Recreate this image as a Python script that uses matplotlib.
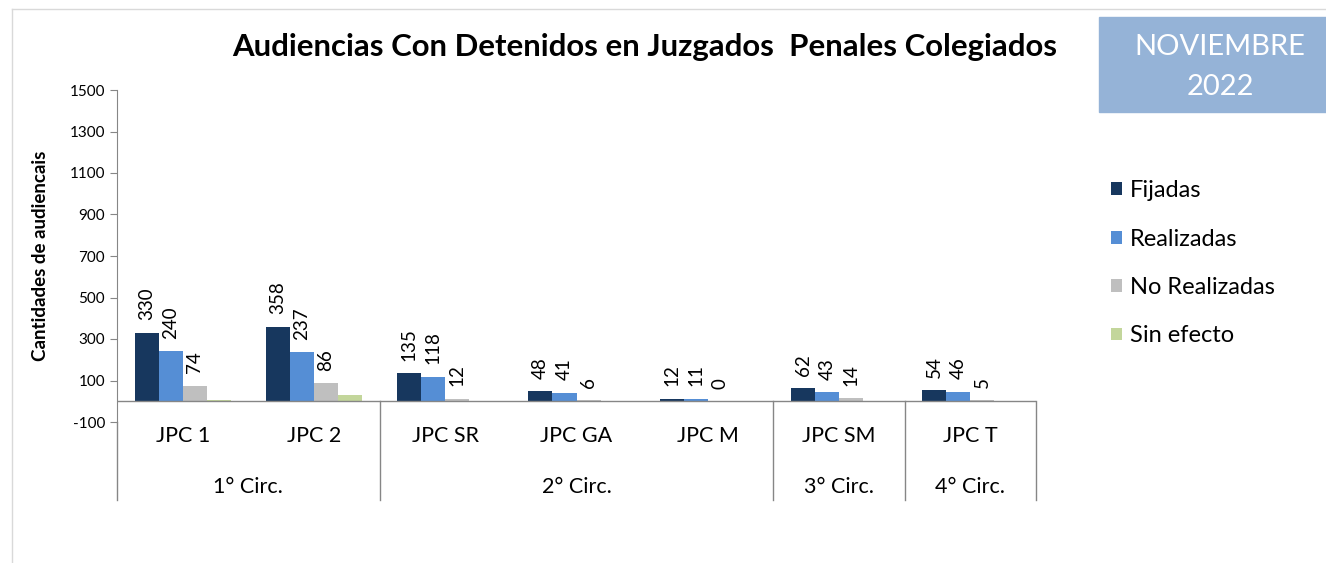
import matplotlib.pyplot as plt
import matplotlib.transforms as mtransforms
from matplotlib.patches import Rectangle
from matplotlib.lines import Line2D
import numpy as np

plt.rcParams['font.family'] = ['Lato', 'DejaVu Sans']
plt.rcParams['axes.unicode_minus'] = False

# Datos
juzgados = ['JPC 1', 'JPC 2', 'JPC SR', 'JPC GA', 'JPC M', 'JPC SM', 'JPC T']
circ = ['1° Circ.', '2° Circ.', '3° Circ.', '4° Circ.']
circ_span = [(0, 1), (2, 4), (5, 5), (6, 6)]
series = ['Fijadas', 'Realizadas', 'No Realizadas', 'Sin efecto']
fijadas = [330, 358, 135, 48, 12, 62, 54]
realizadas = [240, 237, 118, 41, 11, 43, 46]
no_realizadas = [74, 86, 12, 6, 0, 14, 5]
sin_efecto = [6, 30, 3, 0, 0, 3, 1]
colores = ['#17375E', '#558ED5', '#BFBFBF', '#C3D69B']
yticks = [-100, 100, 300, 500, 700, 900, 1100, 1300, 1500]

W, H = 1326, 563
fig = plt.figure(figsize=(W / 100, H / 100), dpi=100)
ax = fig.add_axes([117 / W, 1 - 422 / H, (1036 - 117) / W, (422 - 90) / H])

x = np.arange(len(juzgados))
w = 0.183
datos = [fijadas, realizadas, no_realizadas, sin_efecto]
for k, (vals, col, nom) in enumerate(zip(datos, colores, series)):
    pos = x + (k - 1.5) * w
    bars = ax.bar(pos, vals, w, color=col, label=nom, zorder=2)
    if k < 3:
        for b, v in zip(bars, vals):
            ax.annotate(str(v), (b.get_x() + b.get_width() / 2, v),
                        xytext=(0, 9), textcoords='offset points',
                        rotation=90, ha='center', va='bottom', fontsize=13.5)

ax.set_xlim(-0.5, len(juzgados) - 0.5)
ax.set_ylim(-100, 1500)
ax.set_yticks(yticks)
ax.tick_params(axis='y', labelsize=11, color='#868686', length=5, direction='out')
ax.set_xticks([])
for s in ['top', 'right', 'bottom']:
    ax.spines[s].set_visible(False)
ax.spines['left'].set_color('#868686')
ax.axhline(0, color='#868686', lw=1, zorder=3)
ax.set_ylabel('Cantidades de audiencais', fontsize=13.5, fontweight='bold', labelpad=15)

# Eje de categorias en dos niveles
tr = mtransforms.blended_transform_factory(ax.transData, ax.transAxes)
y_bot = -(500 - 422) / 332
for i, j in enumerate(juzgados):
    ax.text(i, -(436 - 422) / 332, j, transform=tr, ha='center', va='center', fontsize=15.5)
for c, (a, b) in zip(circ, circ_span):
    ax.text((a + b) / 2, -(487 - 422) / 332, c, transform=tr, ha='center', va='center', fontsize=15.5)
for xs in [-0.5, 1.5, 4.5, 5.5, 6.5]:
    ax.add_line(Line2D([xs, xs], [y_bot, 0.0626 if xs != -0.5 else 0], transform=tr,
                       color='#868686', lw=1, clip_on=False))

# Titulo y recuadro del mes
fig.text(645 / W, 1 - 47 / H, 'Audiencias Con Detenidos en Juzgados  Penales Colegiados',
         ha='center', va='center', fontsize=22.4, fontweight='bold')
fig.patches.append(Rectangle((1099 / W, 1 - 112 / H), (W - 1099) / W, 95 / H,
                             transform=fig.transFigure, color='#95B3D7'))
fig.text(1220 / W, 1 - 67 / H, 'NOVIEMBRE\n2022', ha='center', va='center',
         fontsize=21, color='white', linespacing=1.65)

# Borde del area del grafico
fig.add_artist(Line2D([12 / W, 12 / W], [0, 1 - 9 / H], transform=fig.transFigure, color='#D9D9D9', lw=1))
fig.add_artist(Line2D([12 / W, 1], [1 - 9 / H, 1 - 9 / H], transform=fig.transFigure, color='#D9D9D9', lw=1))

ax.legend(loc='upper left', bbox_to_anchor=(1090 / W, 1 - 159 / H), bbox_transform=fig.transFigure,
          frameon=False, fontsize=17, handlelength=0.45, handleheight=0.45,
          handletextpad=0.35, labelspacing=1.16)

fig.savefig('out.png', dpi=100)
